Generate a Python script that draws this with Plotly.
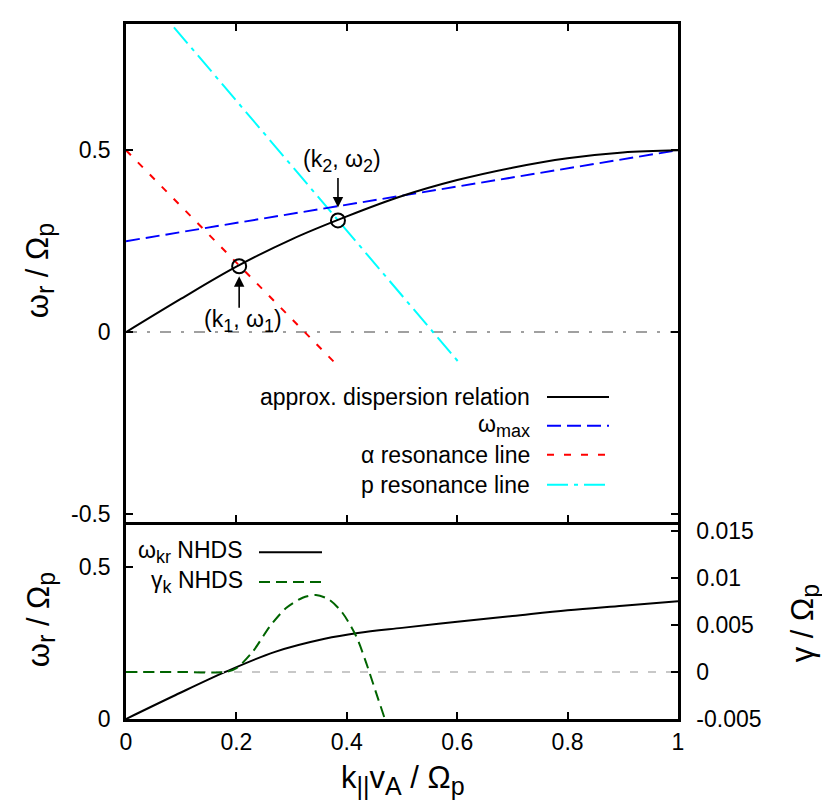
import plotly.graph_objects as go

# top panel: approximate dispersion relation and resonance lines
k_disp = [0, 0.1, 0.2, 0.3, 0.4, 0.5, 0.6, 0.7, 0.8, 0.9, 1.0]
w_disp = [0, 0.092, 0.18, 0.255, 0.318, 0.374, 0.418, 0.452, 0.478, 0.494, 0.5]

k_wmax = [0, 1.0]
w_wmax = [0.25, 0.5]

k_alpha = [0, 0.382]
w_alpha = [0.5, -0.09]

k_p = [0, 0.605]
w_p = [0.993, -0.087]

k_zero = [0, 1.0]
w_zero = [0, 0]

k_cross = [0.205, 0.384]
w_cross = [0.181, 0.307]

# bottom panel: NHDS solution
k_nhds = [0, 0.09, 0.18, 0.27, 0.36, 0.42, 0.5, 0.6, 0.7, 0.8, 0.9, 1.0]
w_nhds = [0, 0.079, 0.155, 0.221, 0.264, 0.283, 0.3, 0.32, 0.339, 0.358, 0.373, 0.388]

k_gam = [0, 0.1, 0.18, 0.2, 0.23, 0.26, 0.29, 0.32, 0.344, 0.368, 0.392, 0.417,
         0.435, 0.453, 0.47, 0.48]
g_gam = [0, 0, 0, 0.0004, 0.0022, 0.0048, 0.0068, 0.0079, 0.0082, 0.0077, 0.0063,
         0.0038, 0.001, -0.0022, -0.0052, -0.0072]

FONT = "Liberation Sans, Arial, sans-serif"
TICK = 23
TITLE = 31


def sub(s, size=25):
    # gnuplot-like subscripts (a bit larger than plotly's default 70%)
    return "<sub><span style='font-size:%dpx'>%s</span></sub>" % (size, s)


cross_labels = ["(k" + sub("1", 18) + ", ω" + sub("1", 18) + ")",
                "(k" + sub("2", 18) + ", ω" + sub("2", 18) + ")"]
top_names = ["approx. dispersion relation", "ω" + sub("max", 18),
             "α resonance line", "p resonance line"]
bottom_names = ["ω" + sub("kr", 18) + " NHDS", "γ" + sub("k", 18) + " NHDS"]

fig = go.Figure()

# top panel traces (x2 / y3)
fig.add_trace(go.Scatter(x=k_zero, y=w_zero, xaxis="x2", yaxis="y3", mode="lines",
                         line=dict(color="#a0a0a0", width=2, dash="11px,10px,3px,10px")))
fig.add_trace(go.Scatter(x=k_alpha, y=w_alpha, xaxis="x2", yaxis="y3", mode="lines",
                         line=dict(color="#ff0000", width=2, dash="7px,10px")))
fig.add_trace(go.Scatter(x=k_p, y=w_p, xaxis="x2", yaxis="y3", mode="lines",
                         line=dict(color="#00ffff", width=2, dash="21px,6px,4px,6px")))
fig.add_trace(go.Scatter(x=k_wmax, y=w_wmax, xaxis="x2", yaxis="y3", mode="lines",
                         line=dict(color="#0000ff", width=2, dash="14px,6px")))
fig.add_trace(go.Scatter(x=k_disp, y=w_disp, xaxis="x2", yaxis="y3", mode="lines",
                         line=dict(color="black", width=2, shape="spline")))
fig.add_trace(go.Scatter(x=k_cross, y=w_cross, xaxis="x2", yaxis="y3", mode="markers",
                         marker=dict(symbol="circle-open", size=14, color="black",
                                     line=dict(width=2, color="black"))))

# bottom panel traces (x / y, y2)
fig.add_trace(go.Scatter(x=[0, 1], y=[0, 0], xaxis="x", yaxis="y2", mode="lines",
                         line=dict(color="#c8c8c8", width=2, dash="8px,10px")))
fig.add_trace(go.Scatter(x=k_gam, y=g_gam, xaxis="x", yaxis="y2", mode="lines",
                         line=dict(color="#006400", width=2, dash="11px,6px",
                                   shape="spline", smoothing=0.8)))
fig.add_trace(go.Scatter(x=k_nhds, y=w_nhds, xaxis="x", yaxis="y", mode="lines",
                         line=dict(color="black", width=2, shape="spline")))

axis_common = dict(showline=True, linecolor="black", linewidth=2.5, ticks="inside",
                   ticklen=7, tickwidth=2, tickcolor="black", showgrid=False,
                   zeroline=False, tickfont=dict(family=FONT, size=TICK, color="black"))

split = 198 / 697

# the page body has an 8px margin, so the plot area is shifted back by 8px
fig.update_layout(
    width=830, height=812,
    margin=dict(l=118, r=160, t=14, b=101),
    paper_bgcolor="white", plot_bgcolor="white",
    showlegend=False,
    font=dict(family=FONT, size=TICK, color="black"),
    xaxis=dict(domain=[0, 1], anchor="y", range=[0, 1], mirror=False,
               tickvals=[0, 0.2, 0.4, 0.6, 0.8, 1], ticktext=["0", "0.2", "0.4", "0.6", "0.8", "1"],
               ticklabelstandoff=1, **axis_common),
    yaxis=dict(domain=[0, split], anchor="x", range=[0, 0.65],
               tickvals=[0, 0.5], ticktext=["0", "0.5"], ticklabelstandoff=8, **axis_common),
    yaxis2=dict(overlaying="y", side="right", anchor="x", range=[-0.005, 0.016],
                tickvals=[-0.005, 0, 0.005, 0.01, 0.015],
                ticktext=["-0.005", "0", "0.005", "0.01", "0.015"],
                ticklabelstandoff=11, **axis_common),
    xaxis2=dict(domain=[0, 1], anchor="y3", range=[0, 1], mirror="ticks",
                tickvals=[0, 0.2, 0.4, 0.6, 0.8, 1], showticklabels=False, **axis_common),
    yaxis3=dict(domain=[split, 1], anchor="x2", range=[-0.521, 0.847], mirror="ticks",
                tickvals=[-0.5, 0, 0.5], ticktext=["-0.5", "0", "0.5"],
                ticklabelstandoff=8, **axis_common),
)


def px_x(p):
    return (p - 126) / 552


def px_y(p):
    return (719 - p) / 697


annotations = []
shapes = []

# arrows and labels for the crossing points
for i, (kc, wc, lab) in enumerate(zip(k_cross, w_cross, cross_labels)):
    if i == 0:
        ay, stand, ysh = 43, 10, -55
    else:
        ay, stand, ysh = -44, 13, 59
    annotations.append(dict(x=kc, y=wc, xref="x2", yref="y3", text="", showarrow=True,
                            ax=0, ay=ay, standoff=stand, arrowhead=2, arrowsize=1.3,
                            arrowwidth=1.6, arrowcolor="black"))
    annotations.append(dict(x=kc, y=wc, xref="x2", yref="y3", text=lab, showarrow=False,
                            xanchor="center", yanchor="middle",
                            xshift=4, yshift=ysh, font=dict(family=FONT, size=TICK)))

# hand-drawn key, gnuplot style: right-aligned text followed by a sample line
top_styles = [dict(color="black", width=2),
              dict(color="#0000ff", width=2, dash="14px,6px"),
              dict(color="#ff0000", width=2, dash="7px,10px"),
              dict(color="#00ffff", width=2, dash="21px,6px,4px,6px")]
top_rows = [396, 425, 454, 484]
for name, st, row in zip(top_names, top_styles, top_rows):
    annotations.append(dict(x=px_x(532), y=px_y(row), xref="paper", yref="paper", text=name,
                            showarrow=False, xanchor="right", yanchor="middle",
                            font=dict(family=FONT, size=TICK)))
    shapes.append(dict(type="line", xref="paper", yref="paper", x0=px_x(547), x1=px_x(609),
                       y0=px_y(row), y1=px_y(row), line=st))

bottom_styles = [dict(color="black", width=2), dict(color="#006400", width=2, dash="11px,6px")]
bottom_rows = [551.7, 581.7]
for name, st, row in zip(bottom_names, bottom_styles, bottom_rows):
    annotations.append(dict(x=px_x(245), y=px_y(row), xref="paper", yref="paper", text=name,
                            showarrow=False, xanchor="right", yanchor="middle",
                            font=dict(family=FONT, size=TICK)))
    shapes.append(dict(type="line", xref="paper", yref="paper", x0=px_x(259), x1=px_x(322),
                       y0=px_y(row), y1=px_y(row), line=st))

# axis titles
titles = [
    (40, 270, "ω" + sub("r") + " / Ω" + sub("p"), -90),
    (41, 620, "ω" + sub("r") + " / Ω" + sub("p"), -90),
    (805, 623, "γ / Ω" + sub("p"), -90),
    (403, 780, "k" + sub("||") + "v" + sub("A") + " / Ω" + sub("p"), 0),
]
for tx, ty, txt, ang in titles:
    annotations.append(dict(x=px_x(tx), y=px_y(ty), xref="paper", yref="paper",
                            text=txt, textangle=ang, showarrow=False,
                            xanchor="center", yanchor="middle",
                            font=dict(family=FONT, size=TITLE)))

fig.update_layout(annotations=annotations, shapes=shapes)

fig.write_html("out.html")
